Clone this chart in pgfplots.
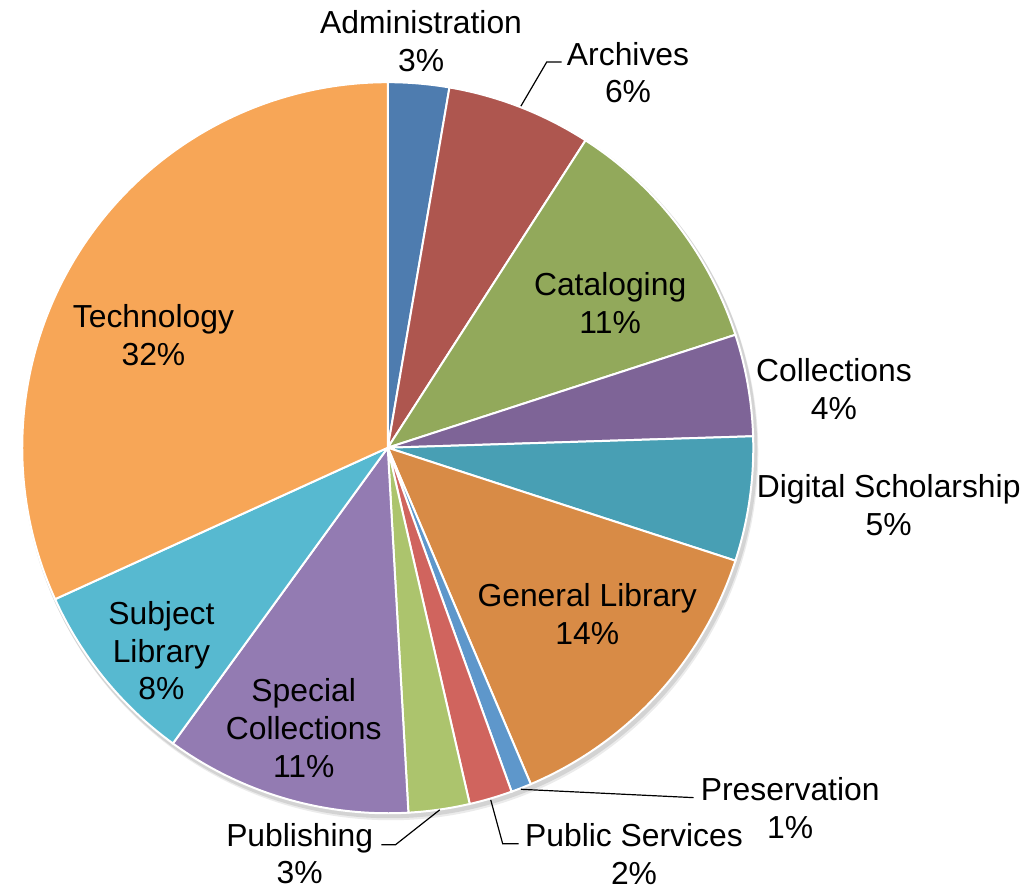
\documentclass[border=0pt]{standalone}
\usepackage{pgfplots}
\pgfplotsset{compat=1.18}
\usepackage{fontspec}
\setmainfont{Liberation Sans}
\definecolor{cAdm}{HTML}{4E7CAF}
\definecolor{cArc}{HTML}{AE564F}
\definecolor{cCat}{HTML}{92A95B}
\definecolor{cCol}{HTML}{7E6497}
\definecolor{cDig}{HTML}{489FB4}
\definecolor{cGen}{HTML}{D88B46}
\definecolor{cPre}{HTML}{5E97CB}
\definecolor{cPub}{HTML}{D0645E}
\definecolor{cPbl}{HTML}{ACC46D}
\definecolor{cSpe}{HTML}{937BB2}
\definecolor{cSub}{HTML}{57B9D0}
\definecolor{cTec}{HTML}{F7A657}
\gdef\cum{0}
\newcommand\slice[2]{%
  \pgfmathsetmacro\sa{90-3.6*\cum}%
  \pgfmathsetmacro\ea{90-3.6*(\cum+#1)}%
  \pgfmathsetmacro\newcum{\cum+#1}%
  \xdef\cum{\newcum}%
  \edef\temp{\noexpand\fill[#2,draw=white,line width=1pt] (axis cs:384.5,450) -- ++(\sa:183.7pt) arc[start angle=\sa,end angle=\ea,radius=183.7pt] -- cycle;}%
  \temp}
\begin{document}
\begin{tikzpicture}
\begin{axis}[
  scale only axis, width=513pt, height=447.5pt,
  xmin=0, xmax=1026, ymin=0, ymax=895, y dir=reverse,
  hide axis, clip=false,
]
\draw[draw=none] (rel axis cs:0,0) rectangle (rel axis cs:1,1);
\fill[black,opacity=0.10] (axis cs:386.5,453) circle[radius=184.7pt];
\fill[black,opacity=0.08] (axis cs:387.5,455) circle[radius=184.7pt];
% value (percent), colour
\slice{2.7}{cAdm}
\slice{6.4}{cArc}
\slice{10.9}{cCat}
\slice{4.5}{cCol}
\slice{5.5}{cDig}
\slice{13.6}{cGen}
\slice{0.9}{cPre}
\slice{1.9}{cPub}
\slice{2.7}{cPbl}
\slice{10.9}{cSpe}
\slice{8.2}{cSub}
\slice{31.8}{cTec}
% leader lines
\draw[black,line width=0.6pt] (axis cs:518.3,106.7) -- (axis cs:544.3,62.3) -- (axis cs:559.3,62.3);
\draw[black,line width=0.6pt] (axis cs:518.3,793.3) -- (axis cs:692,801.7);
\draw[black,line width=0.6pt] (axis cs:488,804) -- (axis cs:500,848) -- (axis cs:516,848);
\draw[black,line width=0.6pt] (axis cs:436.7,814) -- (axis cs:392.3,849) -- (axis cs:378,849);
% labels
\tikzset{lab/.style={align=center,inner sep=0pt,font=\fontsize{16}{19}\selectfont}}
\node[lab] at (axis cs:418,41) {Administration\\3\%};
\node[lab] at (axis cs:626,73) {Archives\\6\%};
\node[lab] at (axis cs:608,305) {Cataloging\\11\%};
\node[lab] at (axis cs:833,391) {Collections\\4\%};
\node[lab] at (axis cs:888,508) {Digital Scholarship\\5\%};
\node[lab] at (axis cs:585,617) {General Library\\14\%};
\node[lab] at (axis cs:789,812) {Preservation\\1\%};
\node[lab] at (axis cs:632,858) {Public Services\\2\%};
\node[lab] at (axis cs:296,858) {Publishing\\3\%};
\node[lab] at (axis cs:300,732) {Special\\Collections\\11\%};
\node[lab] at (axis cs:157,654) {Subject\\Library\\8\%};
\node[lab] at (axis cs:149,337) {Technology\\32\%};
\end{axis}
\end{tikzpicture}
\end{document}
